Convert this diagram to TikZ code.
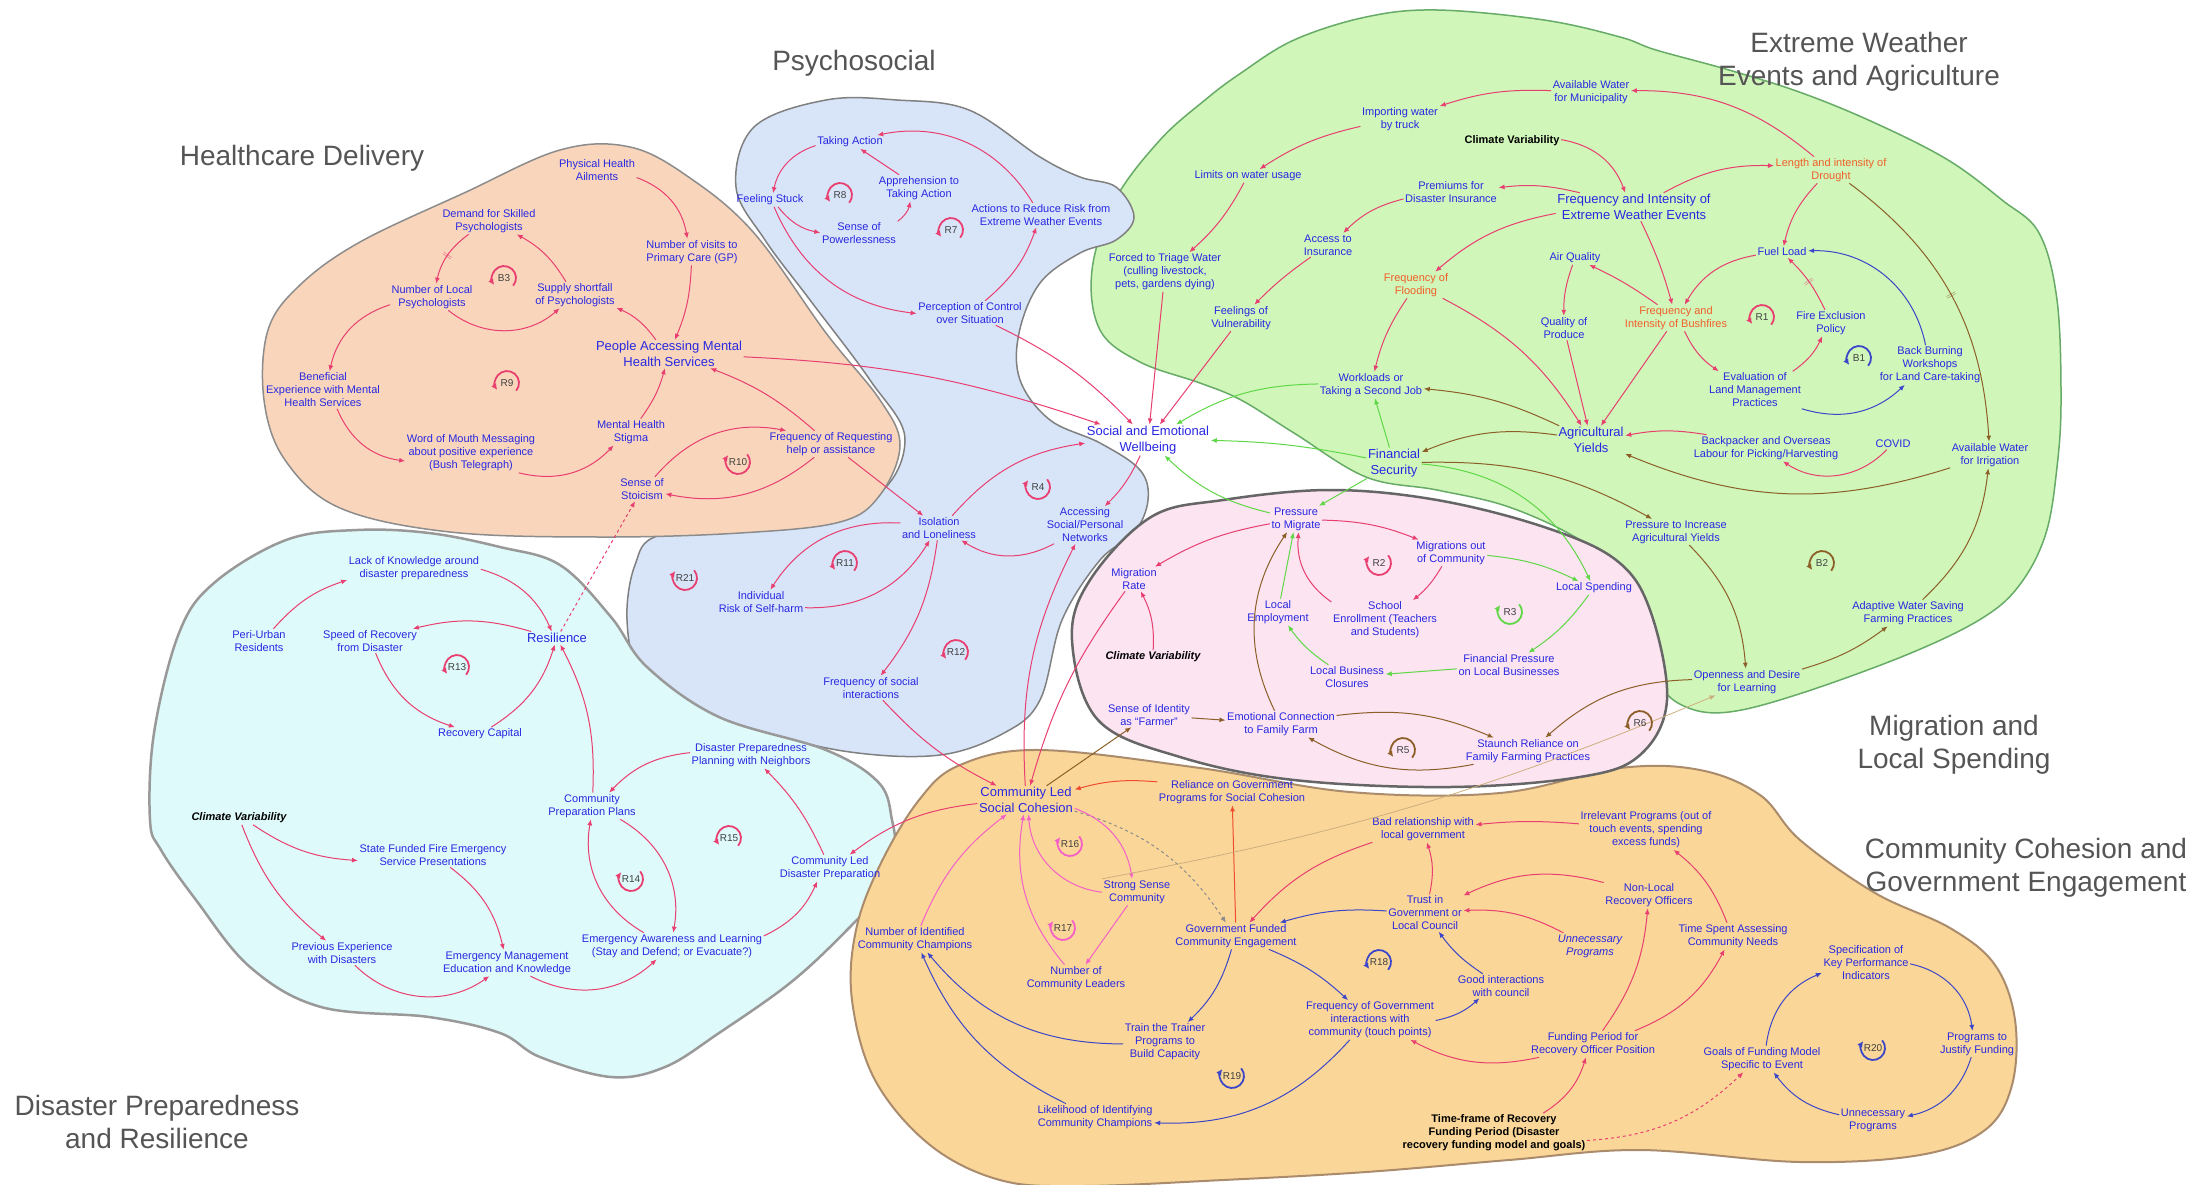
\documentclass[tikz,border=0pt]{standalone}
\usepackage{fontspec}
\setmainfont{Liberation Sans}
\usepackage{tikz}
\usetikzlibrary{arrows.meta,calc}
\usepackage{xcolor}
\definecolor{txtblue}{RGB}{40,40,225}
\definecolor{txtorange}{RGB}{240,95,40}
\definecolor{titlegray}{RGB}{85,85,85}
\definecolor{linkpink}{RGB}{232,62,112}
\definecolor{linkgreen}{RGB}{95,215,70}
\definecolor{linkbrown}{RGB}{140,95,40}
\definecolor{linkblue}{RGB}{60,70,200}
\definecolor{linkred}{RGB}{240,75,45}
\definecolor{linkmag}{RGB}{245,95,200}
\definecolor{linktan}{RGB}{205,175,125}
\definecolor{fillpeach}{RGB}{249,214,187}
\definecolor{fillblue}{RGB}{216,229,249}
\definecolor{fillgreen}{RGB}{208,246,186}
\definecolor{fillpink}{RGB}{252,228,241}
\definecolor{fillcyan}{RGB}{223,250,250}
\definecolor{fillorange}{RGB}{250,215,152}
% loop markers: A = arc over the top, B = arc under the bottom
\newcommand{\loopA}[4]{%
  \node[lplabel] (#1) at (#2) {#3};
  \draw[lparc, #4] (#1.center) ++(-40:12pt) arc[start angle=-40, end angle=215, radius=12pt];}
\newcommand{\loopB}[4]{%
  \node[lplabel] (#1) at (#2) {#3};
  \draw[lparc, #4] (#1.center) ++(40:12pt) arc[start angle=40, end angle=-215, radius=12pt];}

\begin{document}
\begin{tikzpicture}[x=1pt, y=-1pt,
    nd/.style={align=center, text=txtblue, inner sep=1.5pt,
        font=\fontsize{11}{13}\selectfont},
    ndbig/.style={nd, font=\fontsize{13}{15.5}\selectfont},
    ndorg/.style={nd, text=txtorange},
    ndvar/.style={nd, text=black, font=\fontsize{11}{13}\selectfont\bfseries\itshape},
    ndbold/.style={nd, text=black, font=\fontsize{11}{13}\selectfont\bfseries},
    ndital/.style={nd, font=\fontsize{11}{13}\selectfont\itshape},
    title/.style={align=center, text=titlegray, font=\fontsize{28}{33}\selectfont},
    lplabel/.style={inner sep=0pt, text=black!75, font=\fontsize{10}{10}\selectfont},
    lparc/.style={-{Latex[length=6pt,width=6pt]}, line width=1.8pt},
    pk/.style={-{Latex[length=6pt,width=5pt]}, line width=1pt, linkpink},
    gn/.style={-{Latex[length=6pt,width=5pt]}, line width=1pt, linkgreen},
    bn/.style={-{Latex[length=6pt,width=5pt]}, line width=1pt, linkbrown},
    bu/.style={-{Latex[length=6pt,width=5pt]}, line width=1pt, linkblue},
    rd/.style={-{Latex[length=6pt,width=5pt]}, line width=1pt, linkred},
    mg/.style={-{Latex[length=6pt,width=5pt]}, line width=1pt, linkmag},
    tn/.style={-{Latex[length=6pt,width=5pt]}, line width=0.8pt, linktan},
    dsh/.style={-{Latex[length=6pt,width=5pt]}, line width=1pt, dashed, black!45},
    dly/.style={sloped, inner sep=0pt, font=\fontsize{10}{10}\selectfont}
]
    \useasboundingbox (0,0) rectangle (2191,1184);
    \fill[white] (0,0) rectangle (2191,1184);

    % regions
    \filldraw[fill=fillgreen, draw=green!45!black!60, line width=1.5pt]
        plot[smooth cycle, tension=0.6] coordinates {(1205,100) (1241,73) (1294,40)
        (1366,17) (1437,10) (1544,20) (1620,37) (1656,50) (1729,70) (1802,93) (1875,123)
        (1948,160) (2002,200) (2039,233) (2057,300) (2061,400) (2057,467) (2046,533)
        (2021,583) (1984,617) (1911,653) (1802,693) (1729,712) (1686,707) (1660,683)
        (1656,633) (1642,600) (1620,577) (1580,540) (1509,507) (1437,490) (1366,477)
        (1294,433) (1241,400) (1200,383) (1140,362) (1100,330) (1092,270) (1115,200)
        (1160,140)};
    \filldraw[fill=fillblue, draw=black!50, line width=1.5pt]
        plot[smooth cycle, tension=0.6] coordinates {(736,187) (754,127) (826,100)
        (897,100) (969,110) (1040,157) (1080,177) (1116,187) (1134,217) (1116,240)
        (1080,253) (1040,283) (1019,333) (1020,380) (1050,420) (1100,443) (1140,470)
        (1148,500) (1134,533) (1100,560) (1062,620) (1040,700) (1004,733) (940,755)
        (850,752) (754,730) (683,707) (640,675) (627,620) (635,565) (660,535) (760,525)
        (870,500) (905,440) (870,380) (810,300) (765,240)};
    \filldraw[fill=fillpeach, draw=black!45, line width=1.5pt]
        plot[smooth cycle, tension=0.6] coordinates {(560,150) (630,147) (690,178)
        (754,233) (826,333) (880,400) (900,445) (880,495) (840,522) (740,533) (600,537)
        (450,532) (340,508) (285,460) (264,400) (268,330) (300,285) (360,242) (464,193)};
    \filldraw[fill=fillcyan, draw=black!40, line width=2.5pt]
        plot[smooth cycle, tension=0.6] coordinates {(150,820) (154,733) (179,633)
        (214,583) (286,540) (357,530) (429,533) (500,547) (560,565) (611,617) (647,667)
        (719,717) (826,750) (879,783) (892,820) (894,850) (879,893) (844,933) (790,983)
        (719,1033) (665,1067) (611,1077) (540,1057) (500,1033) (429,1017) (321,1007)
        (250,967) (196,900) (161,850)};
    \filldraw[fill=fillorange, draw=brown!70!black!70, line width=2pt]
        plot[smooth cycle, tension=0.6] coordinates {(919,800) (960,765) (1040,750)
        (1200,768) (1350,792) (1500,793) (1620,768) (1700,770) (1760,795) (1800,840)
        (1875,893) (1950,928) (1995,965) (2015,1020) (2012,1085) (1985,1130) (1920,1155)
        (1800,1162) (1640,1150) (1509,1160) (1366,1172) (1223,1180) (1080,1186)
        (1000,1180) (930,1145) (875,1080) (852,1000) (856,930) (880,865)};
    \filldraw[fill=fillpink, draw=black!60, line width=2.5pt]
        plot[smooth cycle, tension=0.6] coordinates {(1072,640) (1090,580) (1151,517)
        (1223,500) (1330,490) (1437,500) (1544,527) (1616,560) (1650,610) (1667,700)
        (1640,755) (1580,777) (1450,787) (1294,780) (1180,757) (1098,720)};

    % titles
    \node[title] (tHealth) at (302,158) {Healthcare Delivery};
    \node[title] (tPsych) at (854,63) {Psychosocial};
    \node[title] (tWeather) at (1859,62) {Extreme Weather\\Events and Agriculture};
    \node[title] (tMigr) at (1954,745) {Migration and\\Local Spending};
    \node[title] (tComm) at (2026,868) {Community Cohesion and\\Government Engagement};
    \node[title] (tDisast) at (157,1122) {Disaster Preparedness\\and Resilience};

    % Healthcare delivery
    \node[nd] (physAil) at (597,170) {Physical Health\\Ailments};
    \node[nd] (visitsGP) at (692,252) {Number of visits to\\Primary Care (GP)};
    \node[ndbig] (peopleMH) at (669,354) {People Accessing Mental\\Health Services};
    \node[nd] (supplyPsy) at (575,295) {Supply shortfall\\of Psychologists};
    \node[nd] (demandPsy) at (489,221) {Demand for Skilled\\Psychologists};
    \node[nd] (numPsy) at (432,297) {Number of Local\\Psychologists};
    \node[nd] (benefExp) at (323,390) {Beneficial\\Experience with Mental\\Health Services};
    \node[nd] (wordMouth) at (471,453) {Word of Mouth Messaging\\about positive experience\\(Bush Telegraph)};
    \node[nd] (mhStigma) at (631,432) {Mental Health\\Stigma};
    \node[nd] (freqReq) at (831,444) {Frequency of Requesting\\help or assistance};
    \node[nd] (stoicism) at (642,489) {Sense of\\Stoicism};

    % Psychosocial
    \node[nd] (takeAct) at (850,142) {Taking Action};
    \node[nd] (stuck) at (770,200) {Feeling Stuck};
    \node[nd] (apprehend) at (919,188) {Apprehension to\\Taking Action};
    \node[nd] (powerless) at (859,233) {Sense of\\Powerlessness};
    \node[nd] (actReduce) at (1041,215) {Actions to Reduce Risk from\\Extreme Weather Events};
    \node[nd] (perceive) at (970,313) {Perception of Control\\over Situation};
    \node[nd] (isolation) at (939,528) {Isolation\\and Loneliness};
    \node[nd] (accessNet) at (1085,525) {Accessing\\Social/Personal\\Networks};
    \node[nd] (selfHarm) at (761,602) {Individual\\Risk of Self-harm};
    \node[nd] (freqSocial) at (871,688) {Frequency of social\\interactions};

    % Extreme weather events and agriculture
    \node[nd] (waterMun) at (1591,92) {Available Water\\for Municipality};
    \node[nd] (importW) at (1400,119) {Importing water\\by truck};
    \node[ndbold] (climTop) at (1512,141) {Climate Variability};
    \node[nd] (limitsW) at (1248,176) {Limits on water usage};
    \node[nd] (premiums) at (1451,192) {Premiums for\\Disaster Insurance};
    \node[ndbig] (freqEWE) at (1634,207) {Frequency and Intensity of\\Extreme Weather Events};
    \node[nd] (accessIns) at (1328,245) {Access to\\Insurance};
    \node[nd] (triage) at (1165,272) {Forced to Triage Water\\(culling livestock,\\pets, gardens dying)};
    \node[nd] (vulner) at (1241,318) {Feelings of\\Vulnerability};
    \node[ndorg] (flood) at (1416,285) {Frequency of\\Flooding};
    \node[nd] (airQ) at (1575,258) {Air Quality};
    \node[nd] (qualProd) at (1564,328) {Quality of\\Produce};
    \node[nd] (workload) at (1371,385) {Workloads or\\Taking a Second Job};
    \node[ndorg] (drought) at (1831,170) {Length and intensity of\\Drought};
    \node[nd] (fuel) at (1782,252) {Fuel Load};
    \node[ndorg] (bushfire) at (1676,318) {Frequency and\\Intensity of Bushfires};
    \node[nd] (fireExcl) at (1831,323) {Fire Exclusion\\Policy};
    \node[nd] (backBurn) at (1930,365) {Back Burning\\Workshops\\for Land Care-taking};
    \node[nd] (evalLand) at (1755,390) {Evaluation of\\Land Management\\Practices};
    \node[nd] (backpack) at (1766,448) {Backpacker and Overseas\\Labour for Picking/Harvesting};
    \node[nd] (covid) at (1893,444) {COVID};
    \node[nd] (waterIrr) at (1990,455) {Available Water\\for Irrigation};
    \node[nd] (pressYield) at (1676,532) {Pressure to Increase\\Agricultural Yields};
    \node[nd] (adaptive) at (1908,613) {Adaptive Water Saving\\Farming Practices};
    \node[nd] (openness) at (1747,682) {Openness and Desire\\for Learning};
    \node[ndbig] (sew) at (1148,440) {Social and Emotional\\Wellbeing};
    \node[ndbig] (finSec) at (1394,463) {Financial\\Security};
    \node[ndbig] (agYield) at (1591,440) {Agricultural\\Yields};

    % Migration and local spending
    \node[nd] (pressMig) at (1296,519) {Pressure\\to Migrate};
    \node[nd] (migOut) at (1451,553) {Migrations out\\of Community};
    \node[nd] (migRate) at (1134,579) {Migration\\Rate};
    \node[nd] (localSpend) at (1594,588) {Local Spending};
    \node[nd] (localEmp) at (1278,612) {Local\\Employment};
    \node[nd] (school) at (1385,620) {School\\Enrollment (Teachers\\and Students)};
    \node[ndvar] (climMid) at (1153,657) {Climate Variability};
    \node[nd] (finPress) at (1509,665) {Financial Pressure\\on Local Businesses};
    \node[nd] (closures) at (1347,677) {Local Business\\Closures};
    \node[nd] (identity) at (1149,715) {Sense of Identity\\as ``Farmer''};
    \node[nd] (emotConn) at (1281,724) {Emotional Connection\\to Family Farm};
    \node[nd] (staunch) at (1528,751) {Staunch Reliance on\\Family Farming Practices};

    % Disaster preparedness and resilience
    \node[nd] (lackKnow) at (414,568) {Lack of Knowledge around\\disaster preparedness};
    \node[nd] (periUrban) at (259,641) {Peri-Urban\\Residents};
    \node[nd] (speedRec) at (370,641) {Speed of Recovery\\from Disaster};
    \node[ndbig] (resil) at (557,638) {Resilience};
    \node[nd] (recCap) at (480,734) {Recovery Capital};
    \node[nd] (planNeigh) at (751,755) {Disaster Preparedness\\Planning with Neighbors};
    \node[nd] (commPlans) at (592,806) {Community\\Preparation Plans};
    \node[ndvar] (climLow) at (239,818) {Climate Variability};
    \node[nd] (stateFund) at (433,855) {State Funded Fire Emergency\\Service Presentations};
    \node[nd] (commPrep) at (830,868) {Community Led\\Disaster Preparation};
    \node[nd] (prevExp) at (342,953) {Previous Experience\\with Disasters};
    \node[nd] (emgMgmt) at (507,963) {Emergency Management\\Education and Knowledge};
    \node[nd] (emgAware) at (672,946) {Emergency Awareness and Learning\\(Stay and Defend; or Evacuate?)};

    % Community cohesion and government engagement
    \node[ndbig] (clsc) at (1026,800) {Community Led\\Social Cohesion};
    \node[nd] (reliance) at (1232,792) {Reliance on Government\\Programs for Social Cohesion};
    \node[nd] (strongSense) at (1137,892) {Strong Sense\\Community};
    \node[nd] (numLeaders) at (1076,978) {Number of\\Community Leaders};
    \node[nd] (numChamp) at (915,939) {Number of Identified\\Community Champions};
    \node[nd] (govFund) at (1236,936) {Government Funded\\Community Engagement};
    \node[nd] (badRel) at (1423,829) {Bad relationship with\\local government};
    \node[nd] (irrelevant) at (1646,830) {Irrelevant Programs (out of\\touch events, spending\\excess funds)};
    \node[nd] (trust) at (1425,913) {Trust in\\Government or\\Local Council};
    \node[nd] (nonLocal) at (1649,895) {Non-Local\\Recovery Officers};
    \node[ndital] (unnecItal) at (1590,946) {Unnecessary\\Programs};
    \node[nd] (goodInt) at (1501,986) {Good interactions\\with council};
    \node[nd] (freqGov) at (1370,1020) {Frequency of Government\\interactions with\\community (touch points)};
    \node[nd] (trainer) at (1165,1042) {Train the Trainer\\Programs to\\Build Capacity};
    \node[nd] (likeli) at (1095,1117) {Likelihood of Identifying\\Community Champions};
    \node[nd] (fundPeriod) at (1593,1044) {Funding Period for\\Recovery Officer Position};
    \node[ndbold] (timeFrame) at (1494,1133) {Time-frame of Recovery\\Funding Period (Disaster\\recovery funding model and goals)};
    \node[nd] (timeSpent) at (1733,936) {Time Spent Assessing\\Community Needs};
    \node[nd] (specKPI) at (1866,963) {Specification of\\Key Performance\\Indicators};
    \node[nd] (progJust) at (1977,1044) {Programs to\\Justify Funding};
    \node[nd] (goals) at (1762,1059) {Goals of Funding Model\\Specific to Event};
    \node[nd] (unnecProg) at (1873,1120) {Unnecessary\\Programs};

    % Healthcare links
    \draw[pk] (physAil) to[bend left=30] (visitsGP);
    \draw[pk] (visitsGP) to[bend left=10] (peopleMH);
    \draw[pk] (peopleMH) to[bend right=15] (supplyPsy);
    \draw[pk] (supplyPsy) to[bend right=15] (demandPsy);
    \draw[pk] (demandPsy) to[bend right=20] node[dly]{$\|$} (numPsy);
    \draw[pk] (numPsy) to[bend right=40] (supplyPsy);
    \draw[pk] (numPsy) to[bend right=30] (benefExp);
    \draw[pk] (benefExp) to[bend right=30] (wordMouth);
    \draw[pk] (wordMouth) to[bend right=30] (mhStigma);
    \draw[pk] (mhStigma) to[bend right=10] (peopleMH);
    \draw[pk] (stoicism) to[bend left=30] (freqReq);
    \draw[pk] (freqReq) to[bend left=25] (stoicism);
    \draw[pk] (freqReq) to[bend right=10] (peopleMH);
    \draw[pk] (peopleMH) to[bend left=8] (sew);
    \draw[pk] (freqReq) to (isolation);
    \draw[pk, dashed] (resil) to (stoicism);

    % Psychosocial links
    \draw[pk] (takeAct) to[bend right=30] (stuck);
    \draw[pk] (stuck) to[bend right=20] (powerless);
    \draw[pk] (powerless) to[bend right=20] (apprehend);
    \draw[pk] (apprehend) to (takeAct);
    \draw[pk] (stuck) to[bend right=30] (perceive);
    \draw[pk] (perceive) to[bend right=15] (actReduce);
    \draw[pk] (actReduce) to[bend right=35] (takeAct);
    \draw[pk] (perceive) to[bend left=10] (sew);
    \draw[pk] (isolation) to[bend right=30] (selfHarm);
    \draw[pk] (selfHarm) to[bend right=30] (isolation);
    \draw[pk] (isolation) to[bend left=20] (sew);
    \draw[pk] (accessNet) to[bend left=30] (isolation);
    \draw[pk] (isolation) to[bend left=15] (freqSocial);
    \draw[pk] (freqSocial) to[bend right=10] (clsc);
    \draw[pk] (clsc) to[bend left=15] (accessNet);
    \draw[pk] (sew) to[bend left=10] (accessNet);
    \draw[pk] (migRate) to[bend right=10] (clsc);

    % Extreme weather links
    \draw[pk] (waterMun) to[bend right=10] (importW);
    \draw[pk] (drought) to[bend right=20] (waterMun);
    \draw[pk] (importW) to[bend right=10] (limitsW);
    \draw[pk] (limitsW) to[bend left=10] (triage);
    \draw[pk] (triage) to (sew);
    \draw[pk] (climTop) to[bend left=30] (freqEWE);
    \draw[pk] (freqEWE) to[bend right=10] (premiums);
    \draw[pk] (premiums) to[bend right=15] (accessIns);
    \draw[pk] (accessIns) to[bend right=5] (vulner);
    \draw[pk] (vulner) to (sew);
    \draw[pk] (freqEWE) to[bend right=15] (flood);
    \draw[pk] (freqEWE) to[bend left=15] (drought);
    \draw[pk] (freqEWE) to[bend left=5] (bushfire);
    \draw[pk] (flood) to[bend right=10] (workload);
    \draw[pk] (flood) to[bend left=15] (agYield);
    \draw[pk] (airQ) to[bend right=10] (qualProd);
    \draw[pk] (bushfire) to[bend right=5] (airQ);
    \draw[pk] (qualProd) to (agYield);
    \draw[pk] (bushfire) to (agYield);
    \draw[pk] (drought) to[bend right=15] (fuel);
    \draw[pk] (fuel) to[bend right=25] (bushfire);
    \draw[pk] (bushfire) to[bend right=15] (evalLand);
    \draw[pk] (evalLand) to[bend right=15] (fireExcl);
    \draw[pk] (fireExcl) to[bend right=10] node[dly]{$\|$} (fuel);
    \draw[bu] (evalLand) to[bend right=30] (backBurn);
    \draw[bu] (backBurn) to[bend right=40] (fuel);
    \draw[bn] (drought) to[bend left=25] node[dly]{$\|$} (waterIrr);
    \draw[bn] (waterIrr) to[bend left=20] (agYield);
    \draw[pk] (backpack) to[bend right=10] (agYield);
    \draw[pk] (covid) to[bend left=40] (backpack);
    \draw[bn] (agYield) to[bend right=10] (workload);
    \draw[bn] (agYield) to[bend right=15] (finSec);
    \draw[gn] (finSec) to (workload);
    \draw[gn] (workload) to[bend right=15] (sew);
    \draw[gn] (finSec) to[bend right=5] (sew);
    \draw[gn] (finSec) to (pressMig);
    \draw[gn] (pressMig) to[bend left=15] (sew);
    \draw[gn] (finSec) to[bend left=30] (localSpend);
    \draw[bn] (finSec) to[bend left=15] (pressYield);
    \draw[bn] (pressYield) to[bend left=20] (openness);
    \draw[bn] (openness) to[bend right=10] (adaptive);
    \draw[bn] (adaptive) to[bend right=20] (waterIrr);
    \draw[bn] (openness) to[bend right=20] (staunch);

    % Migration links
    \draw[bn] (identity) to (emotConn);
    \draw[bn] (emotConn) to[bend left=15] (staunch);
    \draw[bn] (staunch) to[bend left=20] (emotConn);
    \draw[bn] (emotConn) to[bend left=30] (pressMig);
    \draw[gn] (localEmp) to (pressMig);
    \draw[pk] (school) to[bend left=30] (pressMig);
    \draw[pk] (pressMig) to[bend left=10] (migOut);
    \draw[pk] (pressMig) to[bend right=10] (migRate);
    \draw[pk] (climMid) to[bend right=15] (migRate);
    \draw[pk] (migOut) to[bend left=10] (school);
    \draw[gn] (migOut) to[bend left=10] (localSpend);
    \draw[gn] (localSpend) to[bend left=10] (finPress);
    \draw[gn] (finPress) to (closures);
    \draw[gn] (closures) to[bend left=10] (localEmp);
    \draw[bn] (clsc) to (identity);

    % Disaster links
    \draw[pk] (periUrban) to[bend left=15] (lackKnow);
    \draw[pk] (lackKnow) to[bend left=25] (resil);
    \draw[pk] (resil) to[bend right=15] (speedRec);
    \draw[pk] (speedRec) to[bend right=25] (recCap);
    \draw[pk] (recCap) to[bend right=20] (resil);
    \draw[pk] (commPlans) to[bend right=15] (resil);
    \draw[pk] (planNeigh) to[bend right=20] (commPlans);
    \draw[pk] (commPlans) to[bend left=35] (emgAware);
    \draw[pk] (emgAware) to[bend left=35] (commPlans);
    \draw[pk] (emgAware) to[bend right=20] (commPrep);
    \draw[pk] (commPrep) to[bend right=10] (planNeigh);
    \draw[pk] (climLow) to[bend right=15] (stateFund);
    \draw[pk] (climLow) to[bend right=15] (prevExp);
    \draw[pk] (stateFund) to[bend left=20] (emgMgmt);
    \draw[pk] (prevExp) to[bend right=40] (emgMgmt);
    \draw[pk] (emgMgmt) to[bend right=35] (emgAware);

    % Community links
    \draw[rd] (reliance) to[bend right=10] (clsc);
    \draw[rd] (govFund) to (reliance);
    \draw[dsh] (clsc) to[bend left=20] (govFund);
    \draw[pk] (badRel) to[bend right=15] (govFund);
    \draw[pk] (trust) to[bend right=15] (badRel);
    \draw[bu] (trust) to[bend right=10] (govFund);
    \draw[pk] (irrelevant) to[bend right=5] (badRel);
    \draw[pk] (nonLocal) to[bend right=20] (trust);
    \draw[pk] (unnecItal) to[bend right=15] (trust);
    \draw[bu] (goodInt) to[bend left=10] (trust);
    \draw[bu] (freqGov) to[bend right=15] (goodInt);
    \draw[bu] (govFund) to[bend left=10] (freqGov);
    \draw[bu] (govFund) to[bend left=15] (trainer);
    \draw[bu] (freqGov) to[bend left=25] (likeli);
    \draw[bu] (likeli) to[bend left=20] (numChamp);
    \draw[bu] (trainer) to[bend left=25] (numChamp);
    \draw[mg] (numChamp) to[bend left=15] (clsc);
    \draw[pk] (fundPeriod) to[bend left=20] (freqGov);
    \draw[pk] (fundPeriod) to[bend right=15] (nonLocal);
    \draw[pk] (fundPeriod) to[bend right=20] (timeSpent);
    \draw[pk] (timeSpent) to[bend right=15] (irrelevant);
    \draw[pk] (timeFrame) to[bend right=20] (fundPeriod);
    \draw[pk, dashed] (timeFrame) to[bend right=20] (goals);
    \draw[bu] (goals) to[bend left=30] (specKPI);
    \draw[bu] (specKPI) to[bend left=35] (progJust);
    \draw[bu] (progJust) to[bend left=30] (unnecProg);
    \draw[bu] (unnecProg) to[bend left=20] (goals);
    \draw[mg] (clsc) to[bend left=30] (strongSense);
    \draw[mg] (strongSense) to (numLeaders);
    \draw[mg] (strongSense) to[bend left=40] (clsc);
    \draw[mg] (numLeaders) to[bend left=25] (clsc);
    \draw[pk] (clsc) to[bend right=15] (commPrep);
    \draw[tn] (strongSense.north west) to[bend right=6] (openness);

    % loop markers
    \loopA{lpB3}{504,278}{B3}{linkpink}
    \loopA{lpR9}{507,383}{R9}{linkpink}
    \loopB{lpR10}{738,462}{R10}{linkpink}
    \loopA{lpR8}{840,195}{R8}{linkpink}
    \loopA{lpR7}{951,230}{R7}{linkpink}
    \loopB{lpR4}{1038,487}{R4}{linkpink}
    \loopA{lpR11}{845,563}{R11}{linkpink}
    \loopB{lpR21}{685,578}{R21}{linkpink}
    \loopA{lpR12}{956,652}{R12}{linkpink}
    \loopA{lpR13}{457,667}{R13}{linkpink}
    \loopB{lpR14}{631,879}{R14}{linkpink}
    \loopA{lpR15}{729,838}{R15}{linkpink}
    \loopB{lpR16}{1070,844}{R16}{linkmag}
    \loopB{lpR17}{1063,928}{R17}{linkmag}
    \loopA{lpR18}{1379,962}{R18}{linkblue}
    \loopB{lpR19}{1232,1076}{R19}{linkblue}
    \loopB{lpR20}{1873,1048}{R20}{linkblue}
    \loopA{lpR1}{1762,317}{R1}{linkpink}
    \loopA{lpB1}{1859,358}{B1}{linkblue}
    \loopA{lpB2}{1822,563}{B2}{linkbrown}
    \loopB{lpR2}{1379,563}{R2}{linkpink}
    \loopB{lpR3}{1510,612}{R3}{linkgreen}
    \loopA{lpR5}{1403,750}{R5}{linkbrown}
    \loopA{lpR6}{1640,723}{R6}{linkbrown}
\end{tikzpicture}
\end{document}
